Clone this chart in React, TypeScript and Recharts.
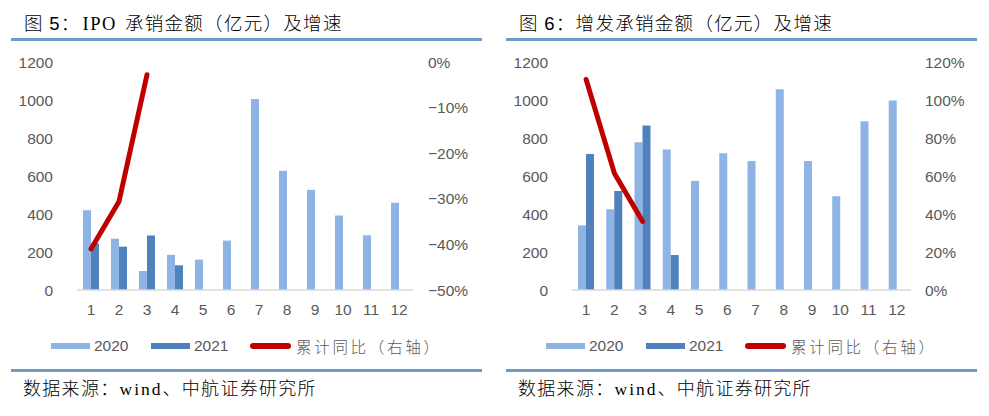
import React from 'react';
import { ComposedChart, Bar, Line, XAxis, YAxis } from 'recharts';

const months = ['1', '2', '3', '4', '5', '6', '7', '8', '9', '10', '11', '12'];

const ipo2020 = [420, 270, 100, 185, 160, 260, 1005, 627, 527, 392, 288, 459];
const ipo2021: (number | null)[] = [245, 228, 287, 130, null, null, null, null, null, null, null, null];
const ipoYoY: (number | null)[] = [-0.41, -0.306, -0.028, null, null, null, null, null, null, null, null, null];

const seo2020 = [340, 425, 778, 740, 574, 720, 679, 1056, 679, 494, 888, 998];
const seo2021: (number | null)[] = [716, 521, 866, 184, null, null, null, null, null, null, null, null];
const seoYoY: (number | null)[] = [1.108, 0.615, 0.36, null, null, null, null, null, null, null, null, null];

const leftTicks = [0, 200, 400, 600, 800, 1000, 1200];
const ipoRightTicks = [-0.5, -0.4, -0.3, -0.2, -0.1, 0];
const seoRightTicks = [0, 0.2, 0.4, 0.6, 0.8, 1.0, 1.2];

const C2020 = '#8EB4E3';
const C2021 = '#4F81BD';
const CRED = '#C00000';
const GRAY = '#595959';
const RULE = '#6E9AC8';
const CJK = '"Noto Sans CJK SC", "Noto Sans", sans-serif';
const LAT = '"Liberation Sans", Arial, sans-serif';
const SERIF = '"Liberation Serif", serif';

const fmtPct = (v: number) => {
  const n = Math.round(v * 100);
  return n < 0 ? `\u2212${Math.abs(n)}%` : `${n}%`;
};

type PanelProps = {
  x: number;
  titleNum: string;
  titleRest: React.ReactNode;
  a: number[];
  b: (number | null)[];
  yoy: (number | null)[];
  rTicks: number[];
  rDomain: [number, number];
  rWidth: number;
  rMargin: number;
};

const tickStyle = { fill: GRAY, fontSize: 15.5, fontFamily: LAT };

function Panel(p: PanelProps) {
  const data = months.map((m, i) => ({ m, a: p.a[i], b: p.b[i], y: p.yoy[i] }));
  return (
    <div style={{ position: 'absolute', left: p.x, top: 0, width: 494, height: 416 }}>
      <div
        style={{
          position: 'absolute', left: 24, top: 11, fontSize: 18.5, lineHeight: '22px',
          fontFamily: CJK, fontWeight: 300, color: '#000', whiteSpace: 'nowrap', letterSpacing: 1.3,
        }}
      >
        图&nbsp;<span style={{ fontFamily: LAT }}>{p.titleNum}</span>：{p.titleRest}
      </div>
      <div style={{ position: 'absolute', left: 11, top: 38, width: 471, height: 3, background: RULE }} />
      <div style={{ position: 'absolute', left: 0, top: 0 }}>
        <ComposedChart
          width={494}
          height={320}
          data={data}
          margin={{ top: 62, right: 0, left: 0, bottom: 0 }}
          barGap={0}
        >
          <XAxis
            dataKey="m"
            height={30}
            tickLine={false}
            tickSize={0}
            tickMargin={14}
            axisLine={{ stroke: '#D9D9D9', strokeWidth: 1.5 }}
            tick={{ ...tickStyle, fontSize: 15.5 }}
            interval={0}
          />
          <YAxis
            yAxisId="l"
            width={77}
            domain={[0, 1200]}
            ticks={leftTicks}
            axisLine={false}
            tickLine={false}
            tickSize={0}
            tickMargin={24}
            tick={tickStyle}
            interval={0}
          />
          <YAxis
            yAxisId="r"
            orientation="right"
            width={p.rWidth}
            domain={p.rDomain}
            ticks={p.rTicks}
            axisLine={false}
            tickLine={false}
            tickSize={0}
            tickMargin={p.rMargin}
            tick={{ ...tickStyle, textAnchor: 'start' }}
            tickFormatter={fmtPct}
            interval={0}
          />
          <Bar yAxisId="l" dataKey="a" fill={C2020} barSize={8} isAnimationActive={false} />
          <Bar yAxisId="l" dataKey="b" fill={C2021} barSize={8} isAnimationActive={false} />
          <Line
            yAxisId="r"
            dataKey="y"
            stroke={CRED}
            strokeWidth={5}
            strokeLinecap="round"
            strokeLinejoin="round"
            dot={false}
            activeDot={false}
            type="linear"
            isAnimationActive={false}
          />
        </ComposedChart>
      </div>
      {/* legend */}
      <div style={{ position: 'absolute', left: 51, top: 343, width: 39, height: 6, background: C2020 }} />
      <div style={{ position: 'absolute', left: 94, top: 337, fontSize: 15.5, lineHeight: '18px', fontFamily: LAT, color: GRAY }}>2020</div>
      <div style={{ position: 'absolute', left: 151, top: 343, width: 39, height: 6, background: C2021 }} />
      <div style={{ position: 'absolute', left: 194, top: 337, fontSize: 15.5, lineHeight: '18px', fontFamily: LAT, color: GRAY }}>2021</div>
      <div style={{ position: 'absolute', left: 250, top: 343, width: 41, height: 6, background: CRED, borderRadius: 3 }} />
      <div style={{ position: 'absolute', left: 296, top: 336, fontSize: 15.5, lineHeight: '20px', fontFamily: CJK, fontWeight: 300, color: GRAY, letterSpacing: 2.7 }}>累计同比（右轴）</div>
      <div style={{ position: 'absolute', left: 11, top: 369, width: 471, height: 2.5, background: RULE }} />
      <div
        style={{
          position: 'absolute', left: 23, top: 376, fontSize: 18, lineHeight: '22px',
          fontFamily: CJK, fontWeight: 300, color: '#000', whiteSpace: 'nowrap', letterSpacing: 1.3,
        }}
      >
        数据来源：<span style={{ fontFamily: SERIF, fontSize: 17.5, letterSpacing: 2 }}>wind</span>、中航证券研究所
      </div>
    </div>
  );
}

export default function App() {
  return (
    <div style={{ position: 'absolute', left: 0, top: 0, width: 989, height: 416, background: '#fff', overflow: 'hidden' }}>
      <Panel
        x={0}
        titleNum="5"
        titleRest={<><span style={{ fontFamily: SERIF, letterSpacing: 1.5, marginLeft: 2, marginRight: 8 }}>IPO</span>承销金额（亿元）及增速</>}
        a={ipo2020}
        b={ipo2021}
        yoy={ipoYoY}
        rTicks={ipoRightTicks}
        rDomain={[-0.5, 0]}
        rWidth={81}
        rMargin={15}
      />
      <Panel
        x={495}
        titleNum="6"
        titleRest="增发承销金额（亿元）及增速"
        a={seo2020}
        b={seo2021}
        yoy={seoYoY}
        rTicks={seoRightTicks}
        rDomain={[0, 1.2]}
        rWidth={78}
        rMargin={14}
      />
    </div>
  );
}
